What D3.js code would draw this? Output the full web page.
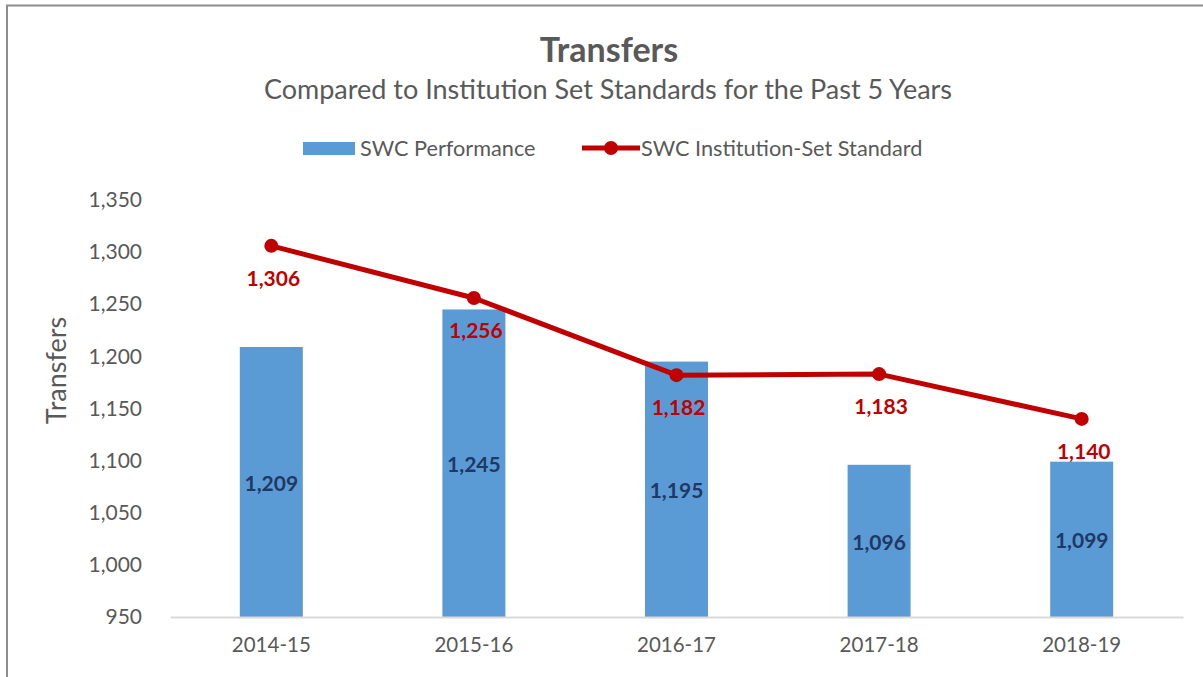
<!DOCTYPE html>
<html>
<head>
<meta charset="utf-8">
<script src="https://cdn.jsdelivr.net/npm/d3@7"></script>
<style>
  body { margin: 0; background: #fff; }
  svg { font-family: Lato, "Open Sans", sans-serif; }
</style>
</head>
<body>
<div id="chart"></div>
<script>
// 年度
const years = ['2014-15', '2015-16', '2016-17', '2017-18', '2018-19'];
// 實際表現
const performance = [1209, 1245, 1195, 1096, 1099];
// 標準
const standard = [1306, 1256, 1182, 1183, 1140];
// y 軸刻度
const yTicks = [950, 1000, 1050, 1100, 1150, 1200, 1250, 1300, 1350];

const width = 1203;
const height = 677;
const margin = { top: 200, right: 20, bottom: 60, left: 170 };

const svg = d3
  .select('#chart')
  .append('svg')
  .attr('width', width)
  .attr('height', height);

// 外框
svg
  .append('path')
  .attr('d', `M7,${height} V5.5 H${width}`)
  .attr('fill', 'none')
  .attr('stroke', '#8c8c8c')
  .attr('stroke-width', 2);

const x = d3
  .scaleBand()
  .domain(years)
  .range([margin.left, width - margin.right]);

const y = d3
  .scaleLinear()
  .domain([950, 1350])
  .range([height - margin.bottom, margin.top]);

// 標題
svg
  .append('text')
  .attr('x', 609)
  .attr('y', 62)
  .attr('text-anchor', 'middle')
  .attr('font-size', 34)
  .attr('font-weight', 'bold')
  .attr('fill', '#595959')
  .text('Transfers');

svg
  .append('text')
  .attr('x', 608)
  .attr('y', 99)
  .attr('text-anchor', 'middle')
  .attr('font-size', 27)
  .attr('fill', '#595959')
  .text('Compared to Institution Set Standards for the Past 5 Years');

// 圖例
const legend = svg.append('g').attr('font-size', 21.7).attr('fill', '#595959');
legend
  .append('rect')
  .attr('x', 303)
  .attr('y', 142)
  .attr('width', 52)
  .attr('height', 13)
  .attr('fill', '#5b9bd5');
legend.append('text').attr('x', 360).attr('y', 156).text('SWC Performance');
legend
  .append('line')
  .attr('x1', 582)
  .attr('x2', 640)
  .attr('y1', 148)
  .attr('y2', 148)
  .attr('stroke', '#c00000')
  .attr('stroke-width', 5);
legend
  .append('circle')
  .attr('cx', 611)
  .attr('cy', 148)
  .attr('r', 7)
  .attr('fill', '#c00000');
legend
  .append('text')
  .attr('x', 641)
  .attr('y', 156)
  .text('SWC Institution-Set Standard');

// y 軸
const yAxis = svg
  .append('g')
  .attr('transform', `translate(${margin.left},0)`)
  .call(
    d3
      .axisLeft(y)
      .tickValues(yTicks)
      .tickSize(0)
      .tickPadding(28)
      .tickFormat(d3.format(','))
  );
yAxis.select('.domain').remove();
yAxis
  .selectAll('text')
  .attr('font-size', 21)
  .attr('font-family', 'Lato, sans-serif')
  .attr('fill', '#595959');

svg
  .append('text')
  .attr('transform', `translate(66,${(margin.top + height - margin.bottom) / 2 - 38}) rotate(-90)`)
  .attr('text-anchor', 'middle')
  .attr('font-size', 27)
  .attr('fill', '#595959')
  .text('Transfers');

// 長條
const barW = 63;
svg
  .selectAll('.bar')
  .data(performance)
  .join('rect')
  .attr('class', 'bar')
  .attr('x', (d, i) => x(years[i]) + x.bandwidth() / 2 - barW / 2)
  .attr('y', (d) => y(d))
  .attr('width', barW)
  .attr('height', (d) => y(950) - y(d))
  .attr('fill', '#5b9bd5');

// x 軸
const xAxis = svg
  .append('g')
  .attr('transform', `translate(0,${y(950)})`)
  .call(d3.axisBottom(x).tickSize(0).tickPadding(20));
xAxis.select('.domain').attr('stroke', '#d9d9d9').attr('stroke-width', 2);
xAxis
  .selectAll('text')
  .attr('font-size', 20.5)
  .attr('font-family', 'Lato, sans-serif')
  .attr('fill', '#595959');

// 長條標籤
svg
  .selectAll('.bar-label')
  .data(performance)
  .join('text')
  .attr('class', 'bar-label')
  .attr('x', (d, i) => x(years[i]) + x.bandwidth() / 2)
  .attr('y', (d) => (y(d) + y(950)) / 2 + 9)
  .attr('text-anchor', 'middle')
  .attr('font-size', 21)
  .attr('font-weight', 'bold')
  .attr('fill', '#203864')
  .text((d) => d3.format(',')(d));

// 折線
const line = d3
  .line()
  .x((d, i) => x(years[i]) + x.bandwidth() / 2)
  .y((d) => y(d));

svg
  .append('path')
  .datum(standard)
  .attr('d', line)
  .attr('fill', 'none')
  .attr('stroke', '#c00000')
  .attr('stroke-width', 5)
  .attr('stroke-linejoin', 'round');

svg
  .selectAll('.dot')
  .data(standard)
  .join('circle')
  .attr('class', 'dot')
  .attr('cx', (d, i) => x(years[i]) + x.bandwidth() / 2)
  .attr('cy', (d) => y(d))
  .attr('r', 7)
  .attr('fill', '#c00000');

svg
  .selectAll('.dot-label')
  .data(standard)
  .join('text')
  .attr('class', 'dot-label')
  .attr('x', (d, i) => x(years[i]) + x.bandwidth() / 2 + 2)
  .attr('y', (d) => y(d) + 40)
  .attr('text-anchor', 'middle')
  .attr('font-size', 21)
  .attr('font-weight', 'bold')
  .attr('fill', '#c00000')
  .text((d) => d3.format(',')(d));
</script>
</body>
</html>
